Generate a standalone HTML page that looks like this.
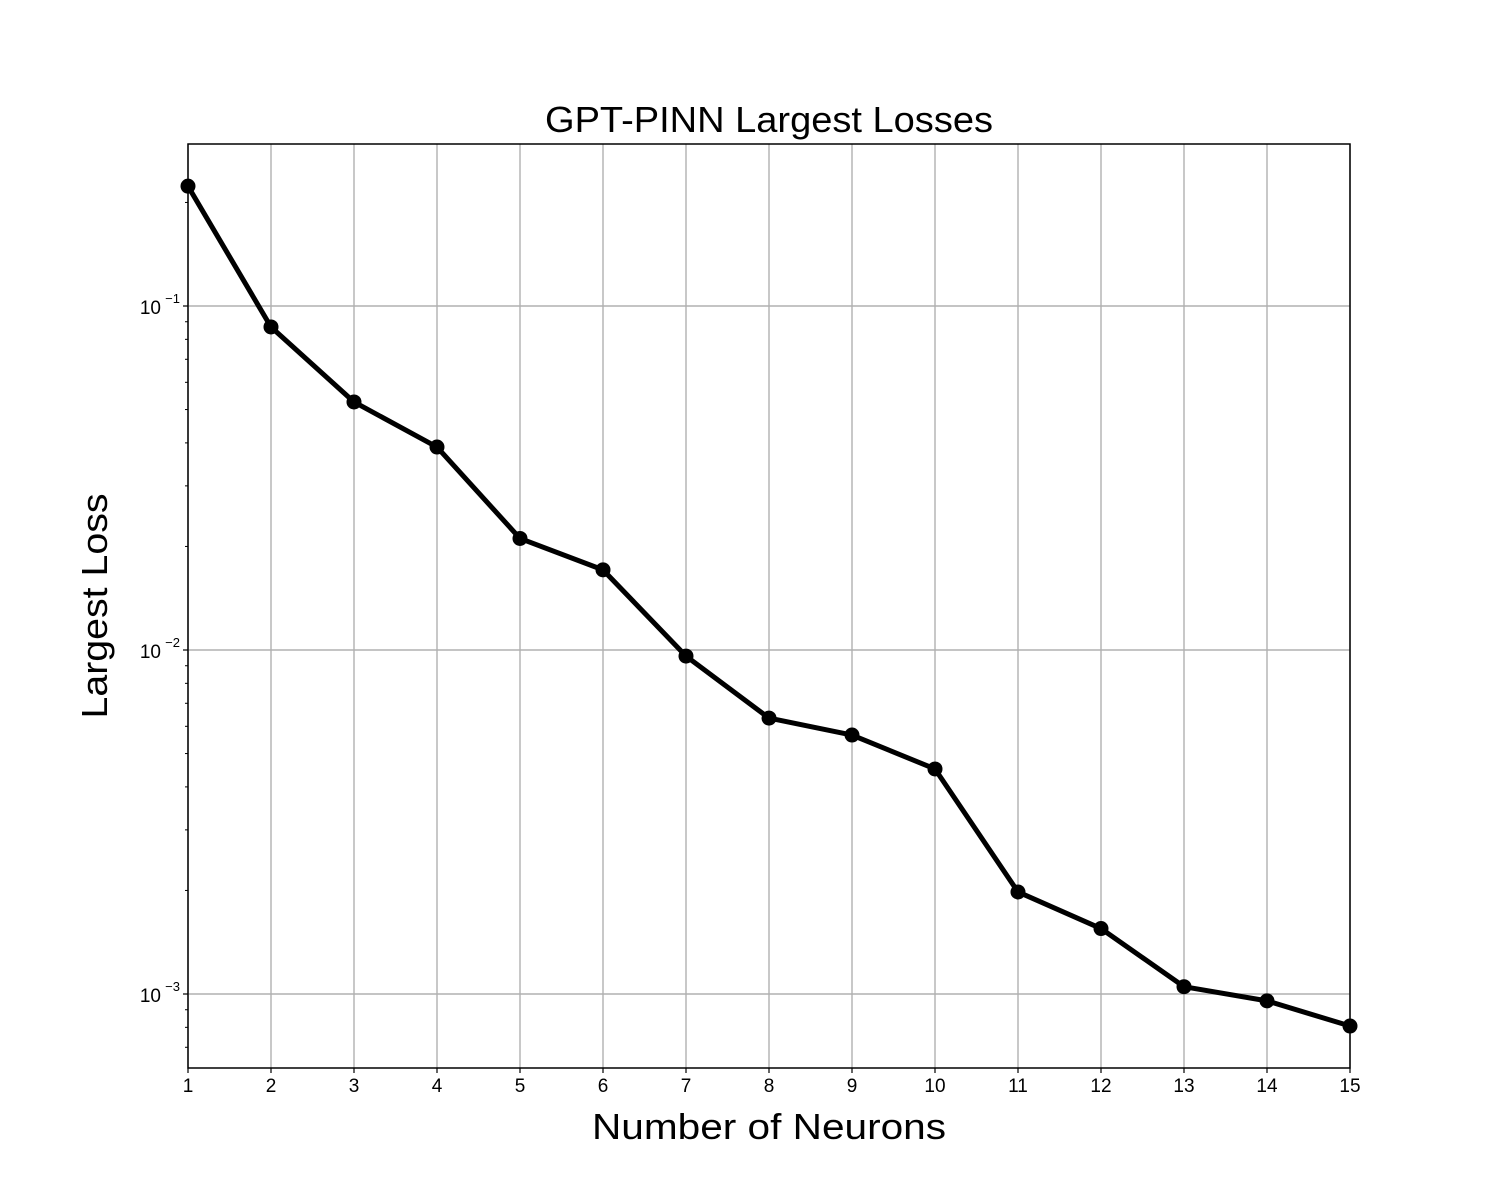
<!DOCTYPE html>
<html><head><meta charset="utf-8"><style>
html,body{margin:0;padding:0;background:#fff;}
svg{display:block;font-family:"Liberation Sans","DejaVu Sans",sans-serif;}
</style></head><body>
<svg id="chart" width="1500" height="1200" viewBox="0 0 1500 1200">
<rect width="1500" height="1200" fill="#fff"/>
<g id="grid"></g>
<g id="ticks"></g>
<g id="series"></g>
<rect x="188" y="144" width="1162" height="924" fill="none" stroke="#000" stroke-width="1.5"/>
<text x="769" y="132" font-size="36" text-anchor="middle" textLength="448" lengthAdjust="spacingAndGlyphs">GPT-PINN Largest Losses</text>
<text x="769" y="1139" font-size="36" text-anchor="middle" textLength="354" lengthAdjust="spacingAndGlyphs">Number of Neurons</text>
<text transform="translate(107,606) rotate(-90)" font-size="36" text-anchor="middle" textLength="225" lengthAdjust="spacingAndGlyphs">Largest Loss</text>
</svg>
<script>
const neurons = [1,2,3,4,5,6,7,8,9,10,11,12,13,14,15];
const losses = [0.223,0.0869,0.0526,0.0389,0.0211,0.0171,0.0096,0.00634,0.00566,0.00451,0.00198,0.00155,0.00105,0.000955,0.000807];
const xTicks = [1,2,3,4,5,6,7,8,9,10,11,12,13,14,15];
const yMajor = [-1,-2,-3];
const yMajorLabels = ["10","10","10"];
const yMajorExp = ["−1","−2","−3"];

const NS="http://www.w3.org/2000/svg";
const X0=188,X1=1350,Y0=144,Y1=1068;
function xs(v){return X0+(v-1)*(X1-X0)/14;}
function ys(v){return 306-(Math.log10(v)+1)*344;}
function mk(tag,attrs,parent){const e=document.createElementNS(NS,tag);for(const k in attrs)e.setAttribute(k,attrs[k]);parent.appendChild(e);return e;}
const grid=document.getElementById('grid'),ticks=document.getElementById('ticks'),series=document.getElementById('series');

xTicks.forEach(t=>{
  const x=xs(t);
  const g=mk('line',{x1:x,x2:x,y1:Y0,y2:Y1,stroke:'#b0b0b0','stroke-width':1.4},grid);
  
  
  const tk=mk('line',{x1:x,x2:x,y1:Y1,y2:Y1+5,stroke:'#000','stroke-width':1.2},ticks);
  
  
  const lb=mk('text',{x:x,y:Y1+24,'font-size':19,'text-anchor':'middle'},ticks);
  lb.textContent=t;
  
  
});
yMajor.forEach((p,i)=>{
  const y=ys(Math.pow(10,p));
  const g=mk('line',{x1:X0,x2:X1,y1:y,y2:y,stroke:'#b0b0b0','stroke-width':1.4},grid);
  
  
  const tk=mk('line',{x1:X0-5,x2:X0,y1:y,y2:y,stroke:'#000','stroke-width':1.2},ticks);
  
  
  const lb=mk('text',{x:X0-27,y:y+8,'font-size':19,'text-anchor':'end'},ticks);
  lb.textContent=yMajorLabels[i];
  
  
  const ex=mk('text',{x:X0-8,y:y-3,'font-size':13,'text-anchor':'end'},ticks);
  ex.textContent=yMajorExp[i];
  
  
});
for(let p=-4;p<=-1;p++){for(let m=2;m<=9;m++){
  const y=ys(m*Math.pow(10,p));
  if(y<Y0||y>Y1)continue;
  const tk=mk('line',{x1:X0-3,x2:X0,y1:y,y2:y,stroke:'#000','stroke-width':1},ticks);
  
  
}}
const pts=neurons.map((n,i)=>xs(n)+','+ys(losses[i])).join(' ');
const pl=mk('polyline',{points:pts,fill:'none',stroke:'#000','stroke-width':5,'stroke-linejoin':'round'},series);


neurons.forEach((n,i)=>{
  const c=mk('circle',{cx:xs(n),cy:ys(losses[i]),r:7.5,fill:'#000'},series);
  
  
});
</script>
</body></html>
